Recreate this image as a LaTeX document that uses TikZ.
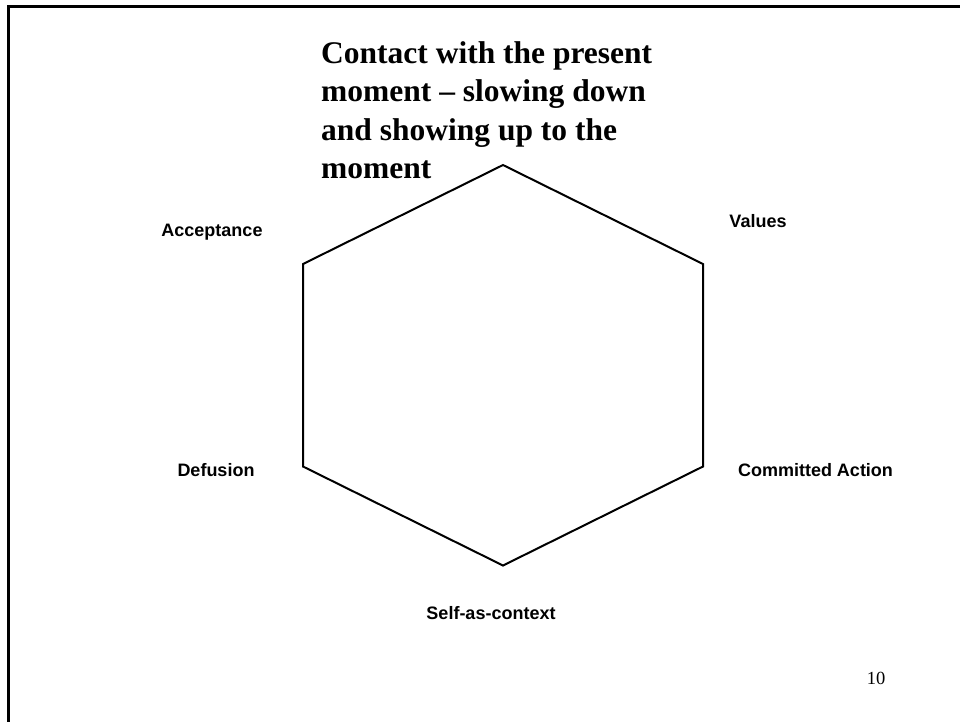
\documentclass[tikz,border=0pt]{standalone}
\usepackage{fontspec}
\setmainfont{Liberation Serif}
\newfontfamily\labelfont{Liberation Sans}
\begin{document}
\begin{tikzpicture}[x=1pt,y=-1pt,
  lbl/.style={font=\labelfont\bfseries\fontsize{18}{21}\selectfont,inner sep=0pt,anchor=base},
  hexline/.style={line width=2pt,line join=miter}]
\useasboundingbox (0,0) rectangle (960,721);
% frame
\draw[line width=2.6pt] (8.3,725) -- (8.3,6.5) -- (965,6.5);
% hexagon corners
\coordinate (t) at (503,165);
\coordinate (ur) at (703,264);
\coordinate (lr) at (703,466.5);
\coordinate (b) at (503,565.5);
\coordinate (ll) at (303,466.5);
\coordinate (ul) at (303,264);
\draw[hexline] (t) -- (ur) -- (lr) -- (b) -- (ll) -- (ul) -- cycle;
% title
\node[font=\bfseries\fontsize{31.5}{38.5}\selectfont,align=left,inner sep=0pt,anchor=base west] (title) at (321,178.5)
 {Contact with the present\\moment -- slowing down\\and showing up to the\\moment};
% labels
\node[lbl] (acc) at (212,236.7) {Acceptance};
\node[lbl] (val) at (758,227) {Values};
\node[lbl] (def) at (216,476) {Defusion};
\node[lbl] (com) at (815.5,476) {Committed Action};
\node[lbl] (self) at (491,619) {Self-as-context};
\node[font=\fontsize{18.5}{21}\selectfont,inner sep=0pt,anchor=base] (num) at (876,684) {10};
\end{tikzpicture}
\end{document}
